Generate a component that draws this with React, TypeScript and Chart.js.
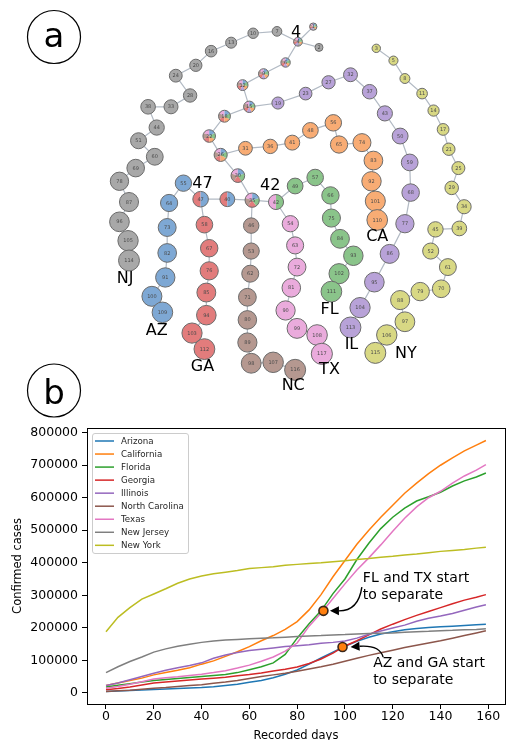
import React, { useEffect, useRef } from "react";
import { Chart, registerables } from "chart.js";

Chart.register(...registerables);

const FONT = "DejaVu Sans";

// ================= Panel b: confirmed cases =================
const days = [0, 5, 10, 15, 20, 25, 30, 35, 40, 45, 50, 55, 60, 65, 70, 75, 80, 85, 90, 95, 100, 105, 110, 115, 120, 125, 130, 135, 140, 145, 150, 155, 159];
const arizona = [4000, 5500, 7000, 8500, 10000, 11500, 13000, 14500, 16000, 18500, 22000, 26000, 32000, 38000, 46000, 57000, 70000, 88000, 107000, 125000, 143000, 158000, 171000, 181000, 188000, 194000, 198000, 201000, 203000, 205000, 207000, 209000, 211000];
const california = [22000, 30000, 38000, 45000, 55000, 62000, 69000, 77000, 88000, 98000, 112000, 126000, 142000, 160000, 176000, 195000, 219000, 255000, 302000, 357000, 407000, 457000, 500000, 540000, 577000, 614000, 645000, 674000, 700000, 723000, 744000, 762000, 776000];
const florida = [18000, 23000, 28000, 33000, 38000, 41000, 44000, 47000, 50000, 53000, 56000, 62000, 71000, 80000, 92000, 118000, 168000, 212000, 252000, 305000, 350000, 410000, 460000, 505000, 540000, 568000, 590000, 603000, 617000, 636000, 652000, 664000, 676000];
const georgia = [9000, 13000, 18000, 24000, 30000, 33000, 36000, 39000, 42000, 45000, 48000, 52000, 56000, 61000, 67000, 72000, 79000, 90000, 104000, 122000, 144000, 160000, 178000, 196000, 211000, 225000, 238000, 250000, 262000, 274000, 285000, 294000, 302000];
const illinois = [22000, 30000, 40000, 50000, 60000, 69000, 77000, 84000, 92000, 106000, 116000, 124000, 130000, 134000, 138000, 142000, 145000, 148000, 152000, 155000, 159000, 168000, 180000, 190000, 199000, 208000, 220000, 229000, 236000, 244000, 254000, 264000, 271000];
const northCarolina = [4000, 6000, 8000, 11000, 14000, 16000, 19000, 22000, 25000, 29000, 33000, 38000, 44000, 50000, 55000, 60000, 66000, 73000, 80000, 88000, 97000, 106000, 115000, 123000, 131000, 139000, 146000, 153000, 160000, 168000, 176000, 184000, 191000];
const texas = [14000, 19000, 26000, 34000, 42000, 46000, 49000, 53000, 57000, 62000, 68000, 76000, 85000, 97000, 110000, 128000, 153000, 205000, 245000, 290000, 335000, 378000, 415000, 455000, 497000, 537000, 572000, 600000, 620000, 645000, 667000, 685000, 702000];
const newJersey = [62000, 80000, 96000, 110000, 125000, 135000, 143000, 149000, 155000, 159000, 162000, 164000, 166000, 168000, 169000, 171000, 173000, 175000, 176000, 178000, 179000, 181000, 182000, 183000, 184000, 186000, 188000, 189000, 191000, 192000, 194000, 195000, 197000];
const newYork = [188000, 232000, 262000, 288000, 304000, 320000, 337000, 350000, 359000, 366000, 371000, 376000, 382000, 385000, 388000, 392000, 395000, 398000, 400000, 403000, 406000, 410000, 413000, 417000, 420000, 424000, 427000, 431000, 435000, 438000, 441000, 445000, 448000];

const stateNames = ["Arizona", "California", "Florida", "Georgia", "Illinois", "North Carolina", "Texas", "New Jersey", "New York"];
const stateColors = ["#1f77b4", "#ff7f0e", "#2ca02c", "#d62728", "#9467bd", "#8c564b", "#e377c2", "#7f7f7f", "#bcbd22"];
const xTicks = [0, 20, 40, 60, 80, 100, 120, 140, 160];
const yTicks = [0, 100000, 200000, 300000, 400000, 500000, 600000, 700000, 800000];

const annotTexts = [["FL and TX start", "to separate"], ["AZ and GA start", "to separate"]];
const annotDays = [91, 99];
const annotValues = [252000, 141000];
const annotTextDays = [107.5, 111.8];
const annotTextValues = [353000, 91500];

// ================= Panel a: clustering network =================
// node label = day number, layout coordinates of each node
const mixedDays = [1, 4, 6, 9, 12, 15, 18, 22, 26, 30, 35];
const mixedX = [316, 300, 287, 264, 242, 249, 223, 207, 219, 237, 252];
const mixedY = [16, 32, 54, 66, 78, 101, 111, 132, 152, 174, 200];
const mixedGroups = [
  ["TX", "NC", "GA", "IL", "NJ", "CA", "FL", "AZ"],
  ["TX", "NC", "GA", "IL", "NJ", "CA", "FL", "AZ"],
  ["TX", "NC", "GA", "IL", "CA", "FL", "AZ"],
  ["TX", "NC", "GA", "IL", "CA", "FL", "AZ"],
  ["TX", "NC", "GA", "IL", "CA", "FL", "AZ"],
  ["TX", "NC", "GA", "IL", "CA", "FL", "AZ"],
  ["TX", "NC", "GA", "CA", "FL", "AZ"],
  ["TX", "NC", "GA", "CA", "FL", "AZ"],
  ["TX", "NC", "GA", "CA", "FL", "AZ"],
  ["TX", "NC", "GA", "FL", "AZ"],
  ["TX", "NC", "GA", "FL", "AZ"],
];
const azgaDays = [40, 47];
const azgaX = [226, 198];
const azgaY = [199, 199];
const azgaGroups = [["GA", "AZ"], ["GA", "AZ"]];
const txflDays = [42];
const txflX = [277];
const txflY = [202];
const txflGroups = [["TX", "FL"]];

const njStubDays = [2];
const njStubX = [322];
const njStubY = [38];
const njDays = [7, 10, 13, 16, 20, 24, 28, 33, 38, 44, 51, 60, 69, 78, 87, 96, 105, 114];
const njX = [278, 253, 230, 209, 193, 172, 187, 167, 143, 152, 133, 150, 130, 113, 123, 113, 122, 123];
const njY = [21, 23, 33, 42, 57, 68, 89, 101, 101, 123, 137, 154, 166, 180, 202, 223, 243, 264];
const azDays = [55, 64, 73, 82, 91, 100, 109];
const azX = [180, 165, 163, 163, 161, 147, 158];
const azY = [182, 203, 229, 256, 282, 302, 319];
const gaDays = [58, 67, 76, 85, 94, 103, 112];
const gaX = [202, 207, 207, 204, 204, 189, 202];
const gaY = [226, 251, 275, 298, 322, 341, 358];
const ncDays = [46, 53, 62, 71, 80, 89, 98, 107, 116];
const ncX = [251, 251, 250, 247, 247, 247, 251, 274, 297];
const ncY = [227, 254, 278, 303, 327, 351, 373, 372, 380];
const txDays = [54, 63, 72, 81, 90, 99, 108, 117];
const txX = [292, 297, 299, 293, 287, 299, 320, 325];
const txY = [225, 248, 271, 293, 317, 336, 343, 363];
const flDays = [49, 57, 66, 75, 84, 93, 102, 111];
const flX = [297, 318, 334, 335, 344, 358, 343, 335];
const flY = [185, 176, 195, 219, 241, 259, 278, 297];
const caDays = [31, 36, 41, 48, 56, 65, 74, 83, 92, 101, 110];
const caX = [245, 271, 294, 313, 337, 343, 367, 379, 377, 381, 383];
const caY = [145, 143, 139, 126, 118, 141, 139, 158, 180, 201, 221];
const ilDays = [19, 23, 27, 32, 37, 43, 50, 59, 68, 77, 86, 95, 104, 113];
const ilX = [279, 308, 332, 355, 375, 391, 407, 417, 418, 412, 396, 380, 365, 355];
const ilY = [97, 87, 75, 67, 85, 108, 132, 160, 192, 225, 257, 287, 314, 335];
const nyDays = [3, 5, 8, 11, 14, 17, 21, 25, 29, 34, 39, 45, 52, 61, 70, 79, 88, 97, 106, 115];
const nyX = [382, 400, 412, 430, 442, 452, 458, 468, 461, 474, 469, 444, 439, 457, 450, 428, 407, 412, 393, 381];
const nyY = [39, 52, 71, 87, 105, 125, 146, 166, 187, 207, 230, 231, 254, 271, 294, 297, 306, 329, 343, 362];

const bigLabelTexts = ["4", "47", "42", "NJ", "AZ", "GA", "NC", "TX", "FL", "CA", "IL", "NY"];
const bigLabelX = [298, 200, 271, 119, 152, 200, 295, 333, 333, 383, 356, 413];
const bigLabelY = [23, 183, 185, 283, 339, 377, 397, 380, 316, 239, 354, 363];

const lightColor: Record<string, string> = {
  AZ: "#7ea8d4", CA: "#f8ac74", FL: "#8ac48a", GA: "#e27c7c", IL: "#b8a2d8",
  NC: "#b59890", TX: "#eaabdc", NJ: "#a8a8a8", NY: "#d8d884",
};
const radiusOf = (d: number) => 3 + 0.7 * Math.sqrt(d);
const NODE_EDGE = "#6b6b6b";
const EDGE_COLOR = "#b2bac4";

function NetworkPanel() {
  const ref = useRef<HTMLCanvasElement | null>(null);
  useEffect(() => {
    const canvas = ref.current;
    if (!canvas) return;
    type Chain = { key: string; parent: string | null; days: number[]; x: number[]; y: number[]; code?: string; groups?: string[][] };
    const chains: Chain[] = [
      { key: "M", parent: null, days: mixedDays, x: mixedX, y: mixedY, groups: mixedGroups },
      { key: "P", parent: "M35", days: azgaDays, x: azgaX, y: azgaY, groups: azgaGroups },
      { key: "Q", parent: "M35", days: txflDays, x: txflX, y: txflY, groups: txflGroups },
      { key: "S", parent: "M4", days: njStubDays, x: njStubX, y: njStubY, code: "NJ" },
      { key: "NJ", parent: "M4", days: njDays, x: njX, y: njY, code: "NJ" },
      { key: "AZ", parent: "P47", days: azDays, x: azX, y: azY, code: "AZ" },
      { key: "GA", parent: "P47", days: gaDays, x: gaX, y: gaY, code: "GA" },
      { key: "NC", parent: "M35", days: ncDays, x: ncX, y: ncY, code: "NC" },
      { key: "TX", parent: "Q42", days: txDays, x: txX, y: txY, code: "TX" },
      { key: "FL", parent: "Q42", days: flDays, x: flX, y: flY, code: "FL" },
      { key: "CA", parent: "M26", days: caDays, x: caX, y: caY, code: "CA" },
      { key: "IL", parent: "M15", days: ilDays, x: ilX, y: ilY, code: "IL" },
      { key: "NY", parent: null, days: nyDays, x: nyX, y: nyY, code: "NY" },
    ];
    const nodes: Record<string, { x: number; y: number; day: number }> = {};
    chains.forEach((c) => c.days.forEach((d, i) => { nodes[c.key + d] = { x: c.x[i], y: c.y[i], day: d }; }));

    const datasets: any[] = [];
    chains.forEach((c) => {
      const path = (c.parent ? [nodes[c.parent]] : []).concat(c.days.map((d) => nodes[c.key + d]));
      if (path.length > 1) {
        datasets.push({
          type: "scatter", data: path.map((p) => ({ x: p.x, y: p.y })), showLine: true,
          borderColor: EDGE_COLOR, borderWidth: 1.2, pointRadius: 0, order: 5, clip: false,
        });
      }
    });
    chains.forEach((c) => {
      const isPie = !!c.groups;
      datasets.push({
        type: "scatter",
        nodeKind: isPie ? "pie" : "plain",
        data: c.days.map((d, i) => ({ x: c.x[i], y: c.y[i], day: d, groups: c.groups ? c.groups[i] : null })),
        pointRadius: (ctx: any) => radiusOf(ctx.raw ? ctx.raw.day : 10),
        backgroundColor: isPie ? "rgba(0,0,0,0)" : lightColor[c.code as string],
        borderColor: isPie ? "rgba(0,0,0,0)" : NODE_EDGE,
        borderWidth: 1,
        order: 1,
        clip: false,
      });
    });

    const nodePlugin = {
      id: "nodeDecor",
      afterDatasetsDraw(chart: any) {
        const ctx = chart.ctx as CanvasRenderingContext2D;
        ctx.save();
        chart.data.datasets.forEach((ds: any, i: number) => {
          if (!ds.nodeKind) return;
          const meta = chart.getDatasetMeta(i);
          meta.data.forEach((el: any, j: number) => {
            const raw = ds.data[j];
            const r = radiusOf(raw.day);
            if (ds.nodeKind === "pie") {
              const g: string[] = raw.groups;
              const step = (2 * Math.PI) / g.length;
              g.forEach((code, k) => {
                const a0 = -Math.PI / 2 - k * step;
                ctx.beginPath();
                ctx.moveTo(el.x, el.y);
                ctx.arc(el.x, el.y, r, a0, a0 - step, true);
                ctx.closePath();
                ctx.fillStyle = lightColor[code];
                ctx.fill();
              });
              ctx.beginPath();
              ctx.arc(el.x, el.y, r, 0, Math.PI * 2);
              ctx.strokeStyle = NODE_EDGE;
              ctx.lineWidth = 1;
              ctx.stroke();
            }
            ctx.fillStyle = "#4a4a4a";
            ctx.font = `5px "${FONT}"`;
            ctx.textAlign = "center";
            ctx.textBaseline = "middle";
            ctx.fillText(String(raw.day), el.x, el.y + 0.3);
          });
        });
        const xs = chart.scales.x, ys = chart.scales.y;
        ctx.fillStyle = "#000";
        ctx.font = `16px "${FONT}"`;
        ctx.textAlign = "center";
        ctx.textBaseline = "middle";
        bigLabelTexts.forEach((t, i) => {
          ctx.fillText(t, xs.getPixelForValue(bigLabelX[i]), ys.getPixelForValue(bigLabelY[i]));
        });
        ctx.restore();
      },
    };

    const chart = new Chart(canvas, {
      type: "scatter",
      data: { datasets },
      options: {
        responsive: false,
        animation: false,
        devicePixelRatio: 1,
        events: [],
        layout: { padding: 0 },
        plugins: { legend: { display: false }, tooltip: { enabled: false } },
        scales: {
          x: { type: "linear", min: 0, max: 511, display: false },
          y: { type: "linear", min: 0, max: 405, reverse: true, display: false },
        },
      } as any,
      plugins: [nodePlugin],
    } as any);
    return () => chart.destroy();
  }, []);
  return <canvas ref={ref} width={511} height={405} style={{ position: "absolute", left: 0, top: 0, width: 511, height: 405 }} />;
}

function CasesPanel() {
  const ref = useRef<HTMLCanvasElement | null>(null);
  useEffect(() => {
    const canvas = ref.current;
    if (!canvas) return;
    const series = [arizona, california, florida, georgia, illinois, northCarolina, texas, newJersey, newYork];
    const lineSets: any[] = series.map((vals, i) => ({
      type: "line",
      label: stateNames[i],
      data: days.map((d, k) => ({ x: d, y: vals[k] })),
      borderColor: stateColors[i],
      backgroundColor: stateColors[i],
      borderWidth: 1.5,
      pointRadius: 0,
      tension: 0,
      fill: false,
      order: 10 - i,
    }));
    const dotSet = {
      type: "scatter",
      label: "separation points",
      data: annotDays.map((d, i) => ({ x: d, y: annotValues[i] })),
      pointRadius: 4.5,
      backgroundColor: "#ff7f0e",
      borderColor: "#3a2618",
      borderWidth: 1.6,
      order: 0,
    };
    const arrowGeom = [
      { sx: -1, sy: 9, cx: 35, cy: 0, ex: 6.5 },
      { sx: 10, sy: -6, cx: 37, cy: -2, ex: 8 },
    ];

    const framePlugin = {
      id: "frameLegendAnnot",
      afterDatasetsDraw(chart: any) {
        const ctx = chart.ctx as CanvasRenderingContext2D;
        const xs = chart.scales.x, ys = chart.scales.y;
        ctx.save();
        annotTexts.forEach((lines, i) => {
          const px = xs.getPixelForValue(annotDays[i]);
          const py = ys.getPixelForValue(annotValues[i]);
          const tx = xs.getPixelForValue(annotTextDays[i]);
          const ty = ys.getPixelForValue(annotTextValues[i]);
          ctx.fillStyle = "#000";
          ctx.font = `14px "${FONT}"`;
          ctx.textAlign = "left";
          ctx.textBaseline = "middle";
          lines.forEach((t, k) => ctx.fillText(t, tx, ty + k * 17.5));
          const g = arrowGeom[i];
          const sx = tx + g.sx, sy = ty + g.sy;
          const cx = px + g.cx, cy = py + g.cy;
          const ex = px + g.ex, ey = py;
          const ang = Math.atan2(ey - cy, ex - cx);
          const L = 9, W = 4.5;
          const bx = ex - L * Math.cos(ang), by = ey - L * Math.sin(ang);
          ctx.strokeStyle = "#000";
          ctx.lineWidth = 1.4;
          ctx.beginPath();
          ctx.moveTo(sx, sy);
          ctx.quadraticCurveTo(cx, cy, bx, by);
          ctx.stroke();
          ctx.beginPath();
          ctx.moveTo(ex, ey);
          ctx.lineTo(bx - W * Math.sin(ang), by + W * Math.cos(ang));
          ctx.lineTo(bx + W * Math.sin(ang), by - W * Math.cos(ang));
          ctx.closePath();
          ctx.fillStyle = "#000";
          ctx.fill();
        });
        ctx.restore();
      },
      afterDraw(chart: any) {
        const ctx = chart.ctx as CanvasRenderingContext2D;
        const a = chart.chartArea;
        ctx.save();
        ctx.strokeStyle = "#000";
        ctx.lineWidth = 1;
        ctx.strokeRect(Math.round(a.left) + 0.5, Math.round(a.top) + 0.5, Math.round(a.right - a.left), Math.round(a.bottom - a.top));
        // legend
        const fx = a.left + 5.5, fy = a.top + 5.5, fw = 96, fh = 120;
        ctx.beginPath();
        (ctx as any).roundRect(fx, fy, fw, fh, 2.5);
        ctx.fillStyle = "rgba(255,255,255,0.8)";
        ctx.fill();
        ctx.strokeStyle = "#cccccc";
        ctx.lineWidth = 1;
        ctx.stroke();
        ctx.font = `8.7px "${FONT}"`;
        ctx.textAlign = "left";
        ctx.textBaseline = "middle";
        chart.data.datasets.forEach((ds: any, i: number) => {
          if (ds.type !== "line") return;
          const y = fy + 7.5 + i * 13.04;
          ctx.strokeStyle = ds.borderColor;
          ctx.lineWidth = 1.5;
          ctx.beginPath();
          ctx.moveTo(fx + 2.5, y);
          ctx.lineTo(fx + 21.5, y);
          ctx.stroke();
          ctx.fillStyle = "#262626";
          ctx.fillText(ds.label, fx + 28.5, y + 0.5);
        });
        ctx.restore();
      },
    };

    const tickFont = { family: FONT, size: 12.5 };
    const chart = new Chart(canvas, {
      type: "line",
      data: { datasets: [...lineSets, dotSet] },
      options: {
        responsive: false,
        animation: false,
        devicePixelRatio: 1,
        events: [],
        layout: { padding: { top: 23, left: 0, right: 0, bottom: 0 } },
        plugins: { legend: { display: false }, tooltip: { enabled: false } },
        scales: {
          x: {
            type: "linear",
            min: -7.95,
            max: 166.95,
            afterBuildTicks: (s: any) => { s.ticks = xTicks.map((v) => ({ value: v })); },
            afterFit: (s: any) => { s.height = 39; },
            grid: { display: true, drawOnChartArea: false, drawTicks: true, tickLength: 5, tickColor: "#000", tickWidth: 1 },
            border: { display: false },
            ticks: { color: "#000", padding: 0, maxRotation: 0, autoSkip: false, font: tickFont, callback: (v: any) => String(v) },
            title: { display: true, text: "Recorded days", color: "#000", font: { family: FONT, size: 11.5 }, padding: { top: 0, bottom: 0 } },
          },
          y: {
            type: "linear",
            min: -34600,
            max: 814600,
            afterBuildTicks: (s: any) => { s.ticks = yTicks.map((v) => ({ value: v })); },
            afterFit: (s: any) => { s.width = 87; },
            grid: { display: true, drawOnChartArea: false, drawTicks: true, tickLength: 5, tickColor: "#000", tickWidth: 1 },
            border: { display: false },
            ticks: { color: "#000", padding: 4, font: tickFont, callback: (v: any) => String(v) },
            title: { display: true, text: "Confirmed cases", color: "#000", font: { family: FONT, size: 11.5 }, padding: { top: 11, bottom: 0 } },
          },
        },
      } as any,
      plugins: [framePlugin],
    } as any);
    return () => chart.destroy();
  }, []);
  return <canvas ref={ref} width={511} height={338} style={{ position: "absolute", left: 0, top: 405, width: 511, height: 338 }} />;
}

export default function App() {
  return (
    <div style={{ position: "absolute", left: 0, top: 0, width: 511, height: 740, overflow: "hidden", background: "#fff" }}>
      <NetworkPanel />
      <CasesPanel />
      <svg width={511} height={740} style={{ position: "absolute", left: 0, top: 0, pointerEvents: "none" }}>
        <circle cx={54} cy={37} r={26.5} fill="none" stroke="#000" strokeWidth={1.2} />
        <text x={54} y={46.5} textAnchor="middle" fontFamily={FONT} fontSize={34} fill="#000">a</text>
        <circle cx={54} cy={390.5} r={26.5} fill="none" stroke="#000" strokeWidth={1.2} />
        <text x={54} y={404} textAnchor="middle" fontFamily={FONT} fontSize={34} fill="#000">b</text>
      </svg>
    </div>
  );
}
